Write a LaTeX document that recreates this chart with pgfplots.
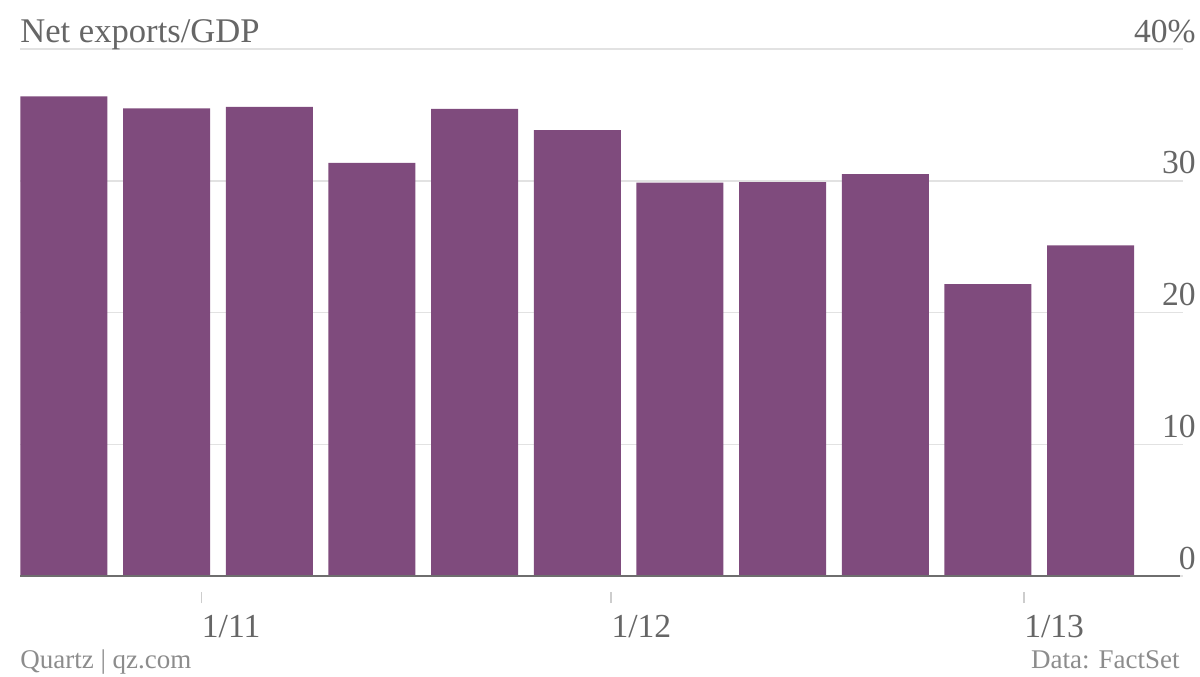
\documentclass[border=0pt]{standalone}
\usepackage{fontspec}
\setmainfont{Liberation Serif}
\usepackage{pgfplots}
\pgfplotsset{compat=1.18}
\definecolor{barpurple}{RGB}{127,75,125}
\definecolor{txtgray}{RGB}{102,102,102}
\definecolor{footgray}{RGB}{140,140,140}
\definecolor{gridgray}{RGB}{226,226,226}
\definecolor{basegray}{RGB}{110,110,110}
\definecolor{tickgray}{RGB}{205,205,205}
\begin{document}
\begin{tikzpicture}
\useasboundingbox (-10pt,-50pt) rectangle (590pt,288pt);
\begin{axis}[
  name=ax,
  at={(0pt,0pt)}, anchor=south west,
  scale only axis, width=581.5pt, height=263.5pt,
  xmin=-0.428, xmax=10.9, ymin=0, ymax=40,
  axis line style={draw=none},
  ytick={0,10,20,30,40}, yticklabels={0,10,20,30,40\%},
  yticklabel pos=right,
  ymajorgrids, grid style={gridgray, line width=0.75pt},
  ytick style={draw=none},
  yticklabel style={anchor=base east, inner sep=0pt, xshift=1pt, yshift=3.5pt,
    font=\fontsize{16.8}{18}\selectfont, text=txtgray},
  xtick={1.34,5.33,9.35}, xticklabels={1/11,1/12,1/13},
  xtick pos=lower,
  xticklabel style={anchor=north west, inner sep=0pt, yshift=-14pt,
    font=\fontsize{16.8}{18}\selectfont, text=txtgray},
  tick align=outside, major tick length=5.5pt,
  xtick style={draw=tickgray, line width=0.75pt, yshift=-8pt},
  /pgf/number format/assume math mode=true,
  ybar, bar width=0.847, bar shift=0pt,
]
\addplot[fill=barpurple, draw=none] coordinates {
  (0,36.4) (1,35.5) (2,35.6) (3,31.35) (4,35.45) (5,33.85)
  (6,29.85) (7,29.9) (8,30.5) (9,22.15) (10,25.1)
};
\end{axis}
\draw[basegray, line width=1pt] (ax.south west) -- ([xshift=-1.5pt]ax.south east);
\node[anchor=base west, inner sep=0pt, font=\fontsize{17.3}{20}\selectfont, text=txtgray]
  at ([yshift=3.5pt]ax.north west) {Net exports/GDP};
\node[anchor=base west, inner sep=0pt, font=\fontsize{13.5}{16}\selectfont, text=footgray]
  at ([yshift=-46pt]ax.south west) {Quartz | qz.com};
\node[anchor=base east, inner sep=0pt, font=\fontsize{13.5}{16}\selectfont, text=footgray]
  at ([xshift=-1.5pt,yshift=-46pt]ax.south east) {Data: FactSet};
\end{tikzpicture}
\end{document}
